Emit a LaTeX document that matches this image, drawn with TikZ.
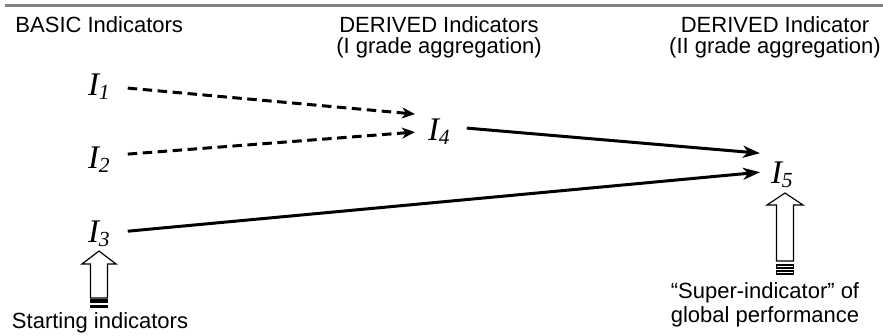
\documentclass[tikz,border=0pt]{standalone}
\usepackage{fontspec}
\setmainfont{Liberation Sans}
\newfontfamily\tnrfont{Liberation Serif}
\usetikzlibrary{arrows.meta,calc}
\definecolor{rulegray}{RGB}{128,128,128}
\newcommand{\indic}[1]{{\tnrfont\fontsize{33}{33}\selectfont\itshape I\raisebox{-4pt}{\fontsize{21.5}{21.5}\selectfont #1}}}
\begin{document}
\begin{tikzpicture}[x=1pt,y=-1pt,
  txt/.style={font=\fontsize{22}{24}\selectfont, inner sep=0pt, outer sep=0pt},
  ind/.style={inner sep=0pt, outer sep=0pt, anchor=base west},
  dasharr/.style={line width=3pt, dash pattern=on 9.5pt off 5.5pt, -{Stealth[length=13pt,width=11pt,inset=4pt]}},
  solarr/.style={line width=3pt, -{Stealth[length=17pt,width=12pt,inset=5pt]}},
  blockarr/.style={draw, line width=1.2pt, fill=white, line join=miter}]
\useasboundingbox (0,0) rectangle (883,335);
% top rule
\coordinate (ruleL) at (5,5);
\coordinate (ruleR) at (883,5);
\draw[line width=3pt, rulegray] (ruleL) -- (ruleR);
% headers
\node[txt, anchor=base west] (h1) at (15.5,32) {BASIC Indicators};
\node[txt, anchor=base] (h2a) at (439,32) {DERIVED Indicators};
\node[txt, anchor=base] (h2b) at (439,53) {(I grade aggregation)};
\node[txt, anchor=base] (h3a) at (775,32) {DERIVED Indicator};
\node[txt, anchor=base] (h3b) at (775,53) {(II grade aggregation)};
% indicators
\node[ind] (i1) at (88,95) {\indic{1}};
\node[ind] (i2) at (88,168) {\indic{2}};
\node[ind] (i3) at (88,242) {\indic{3}};
\node[ind] (i4) at (428,140) {\indic{4}};
\node[ind] (i5) at (771,183) {\indic{5}};
% connectors
\draw[dasharr] ([shift={(18,1.9)}]i1.east) -- ([shift={(-13,-17.1)}]i4.west);
\draw[dasharr] ([shift={(18,-5.1)}]i2.east) -- ([shift={(-13,0.9)}]i4.west);
\draw[solarr] ([shift={(17,-3.1)}]i4.east) -- ([shift={(-11,-21.1)}]i5.west);
\draw[solarr] ([shift={(18,-2.1)}]i3.east) -- ([shift={(-11,-2.1)}]i5.west);
% block arrows
\draw[blockarr] (90.5,298) -- (90.5,264) -- (82,264) -- (99,251) -- (116,264) -- (107.5,264) -- (107.5,298) -- cycle;
\draw[blockarr, fill=black] (90.5,300) rectangle (107.5,302.3);
\draw[blockarr, fill=black] (90.5,305.2) rectangle (107.5,307.5);
\draw[blockarr] (776.5,261) -- (776.5,205) -- (767,205) -- (785,193) -- (803,205) -- (793.5,205) -- (793.5,261) -- cycle;
\draw[blockarr] (776.5,265) rectangle (793.5,268);
\draw[blockarr] (776.5,271) rectangle (793.5,274);
% bottom labels
\node[txt, anchor=base west] (s1) at (12,328) {Starting indicators};
\node[txt, anchor=base] (s2a) at (765,298) {“Super-indicator” of};
\node[txt, anchor=base] (s2b) at (765,322) {global performance};
\end{tikzpicture}
\end{document}
